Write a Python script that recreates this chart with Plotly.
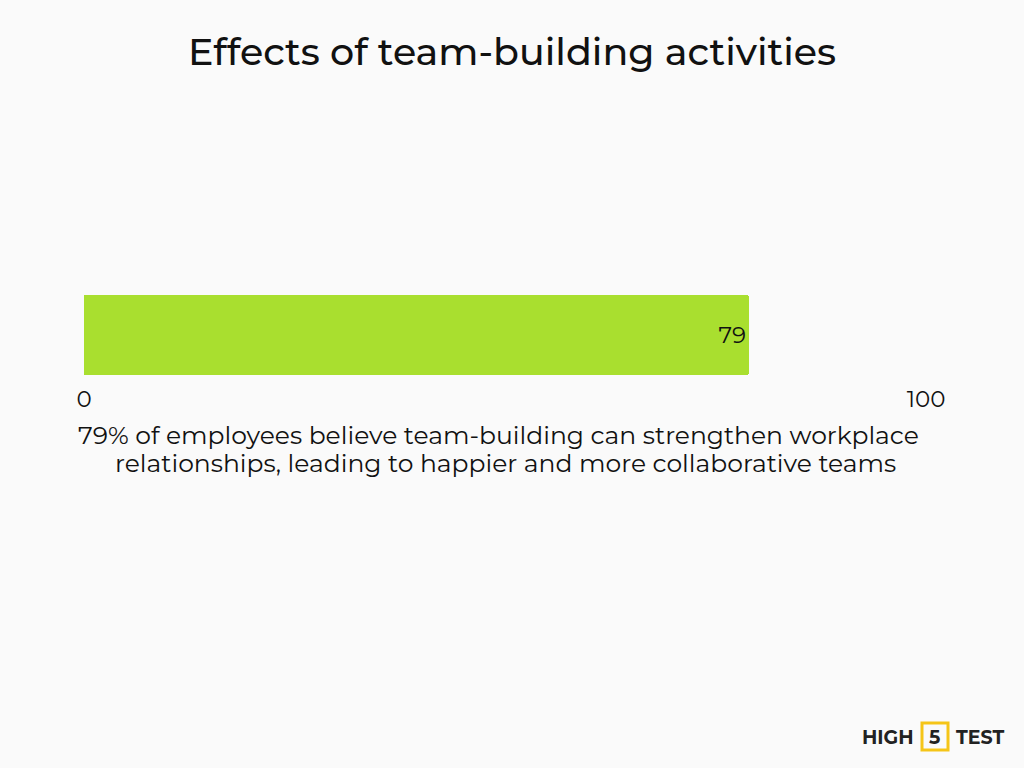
import plotly.graph_objects as go

categories = ["Employees"]
values = [79]
axis_max = 100
tick_vals = [0, 100]
tick_text = ["0", "100"]
title = "Effects of team-building activities"
caption_lines = [
    "79% of employees believe team-building can strengthen workplace",
    "relationships, leading to happier and more collaborative teams",
]

FONT = "Montserrat, Inter, Noto Sans, sans-serif"
PLOT_L, PLOT_R, PLOT_T, PLOT_B = 84, 926, 295, 375


def px_x(x):
    return (x - PLOT_L) / (PLOT_R - PLOT_L)


def px_y(y):
    return (PLOT_B - y) / (PLOT_B - PLOT_T)


fig = go.Figure(go.Bar(
    y=categories, x=values, orientation="h",
    marker=dict(color="#A9DF2F", cornerradius=3, line=dict(width=0)),
    text=[str(v) for v in values], textposition="inside", insidetextanchor="end",
    textfont=dict(color="#111111", size=23, family=FONT),
    width=1,
))

fig.update_layout(
    width=1024, height=768,
    paper_bgcolor="#FAFAFA", plot_bgcolor="#FAFAFA",
    margin=dict(l=PLOT_L, r=1024 - PLOT_R, t=PLOT_T, b=768 - PLOT_B),
    showlegend=False,
    title=dict(text=title, x=0.5, xanchor="center", y=1 - 52 / 768, yanchor="middle",
               font=dict(family=FONT, size=38, color="#111111", weight=500)),
    xaxis=dict(range=[0, axis_max], tickvals=tick_vals, ticktext=tick_text,
               showgrid=True, gridcolor="#EEEEEE", gridwidth=1, zeroline=False,
               showline=False, ticks="", ticklabelstandoff=8,
               tickfont=dict(family=FONT, size=23, color="#111111"), fixedrange=True),
    yaxis=dict(showticklabels=False, showgrid=False, zeroline=False, range=[-0.5, 0.5],
               fixedrange=True),
    bargap=0,
)

for line, xc, yc in zip(caption_lines, [498, 505], [435, 463]):
    fig.add_annotation(text=line, xref="paper", yref="paper", x=px_x(xc), y=px_y(yc),
                       xanchor="center", yanchor="middle", showarrow=False,
                       font=dict(family=FONT, size=25, color="#111111"))

# logo
logo_font = dict(family=FONT, size=19, color="#222222")
for txt, xc in [("<b>HIGH</b>", 888), ("<b>5</b>", 935), ("<b>TEST</b>", 980)]:
    fig.add_annotation(text=txt, xref="paper", yref="paper",
                       x=px_x(xc), y=px_y(737),
                       xanchor="center", yanchor="middle", showarrow=False, font=logo_font)
fig.add_shape(type="rect", xref="paper", yref="paper",
              x0=px_x(922), x1=px_x(948), y0=px_y(750), y1=px_y(723),
              line=dict(color="#F5C518", width=3), fillcolor="rgba(0,0,0,0)")

fig.write_html("out.html", config={"displayModeBar": False},
               post_script="document.body.style.margin='0';")
